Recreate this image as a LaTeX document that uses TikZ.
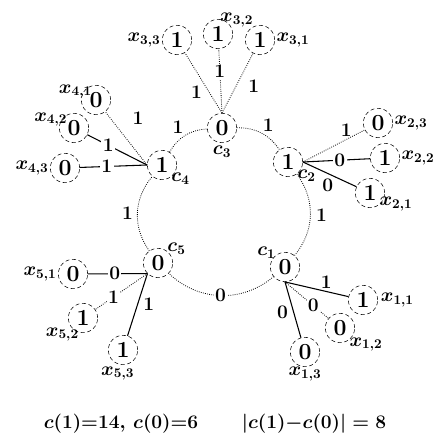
\documentclass[tikz,border=0pt]{standalone}
\usetikzlibrary{positioning}
\begin{document}
\begin{tikzpicture}[x=0.75pt,y=-0.75pt,
  bit/.style={circle,draw,densely dashed,minimum size=22pt,inner sep=0pt,font=\LARGE\bfseries},
  tag/.style={font=\Large\boldmath,inner sep=1pt},
  val/.style={font=\Large\bfseries,inner sep=1pt},
  onl/.style={val,fill=white},
  dots/.style={densely dotted,semithick},
  full/.style={thick}]
\useasboundingbox (0,0) rectangle (435,441);
% check nodes on the cycle
\node[bit] (c3) at (222,128) {0};
\node[bit] (c2) at (288,162) {1};
\node[bit] (c1) at (285,267) {0};
\node[bit] (c5) at (158,263) {0};
\node[bit] (c4) at (162,165) {1};
\node[tag,below=1pt of c3] {$c_3$};
\node[tag,below right=-3pt and -2pt of c2] {$c_2$};
\node[tag,above left=-3pt and -2pt of c1] {$c_1$};
\node[tag,above right=-3pt and -2pt of c5] {$c_5$};
\node[tag,below right=-3pt and -2pt of c4] {$c_4$};
\draw[dots] (c3) to[bend left=28] node[val,above right] {1} (c2);
\draw[dots] (c2) to[bend left=38] node[val,right=3pt] {1} (c1);
\draw[dots] (c1) to[bend left=42] node[onl] {0} (c5);
\draw[dots] (c5) to[bend left=38] node[val,left=2pt] {1} (c4);
\draw[dots] (c4) to[bend left=28] node[val,above left] {1} (c3);
% leaves of c3
\node[bit] (x33) at (177,40) {1};
\node[bit] (x32) at (218,34) {1};
\node[bit] (x31) at (260,40) {1};
\node[tag,left=0pt of x33] {$x_{3,3}$};
\node[tag,above=-7pt of x32,xshift=14pt] {$x_{3,2}$};
\node[tag,right=0pt of x31] {$x_{3,1}$};
\draw[dots] (c3.north) -- node[val,pos=.35,left=4pt] {1} (x33);
\draw[dots] (c3.north) -- node[onl,pos=.65] {1} (x32);
\draw[dots] (c3.north) -- node[val,pos=.45,right=8pt] {1} (x31);
% leaves of c4
\node[bit] (x41) at (96,100) {0};
\node[bit] (x42) at (74,128) {0};
\node[bit] (x43) at (65,168) {0};
\node[tag,above left=-8pt and -6pt of x41] {$x_{4,1}$};
\node[tag,above left=-8pt and -4pt of x42] {$x_{4,2}$};
\node[tag,left=0pt of x43] {$x_{4,3}$};
\draw[dots] (c4.west) -- node[val,pos=.45,above right=11pt and 2pt] {1} (x41);
\draw[full] (c4.west) -- node[onl,pos=.65] {1} (x42);
\draw[full] (c4.west) -- node[onl,pos=.6] {1} (x43);
% leaves of c2
\node[bit] (x23) at (378,123) {0};
\node[bit] (x22) at (385,158) {1};
\node[bit] (x21) at (370,193) {1};
\node[tag,right=0pt of x23] {$x_{2,3}$};
\node[tag,right=0pt of x22] {$x_{2,2}$};
\node[tag,below right=-6pt and -2pt of x21] {$x_{2,1}$};
\draw[dots] (c2.east) -- node[val,pos=.7,above=1pt] {1} (x23);
\draw[full] (c2.east) -- node[onl,pos=.55] {0} (x22);
\draw[full] (c2.east) -- node[val,pos=.6,below left=0pt] {0} (x21);
% leaves of c5
\node[bit] (x51) at (73,274) {0};
\node[bit] (x52) at (83,318) {1};
\node[bit] (x53) at (123,350) {1};
\node[tag,left=0pt of x51] {$x_{5,1}$};
\node[tag,below left=-2pt and -6pt of x52] {$x_{5,2}$};
\node[tag,below=0pt of x53,xshift=-4pt] {$x_{5,3}$};
\draw[full] (c5.south west) -- node[onl,pos=.55] {0} (x51);
\draw[dots] (c5.south west) -- node[onl,pos=.65] {1} (x52);
\draw[full] (c5.south west) -- node[val,pos=.5,right=3pt] {1} (x53);
% leaves of c1
\node[bit] (x11) at (363,300) {1};
\node[bit] (x12) at (340,328) {0};
\node[bit] (x13) at (305,352) {0};
\node[tag,right=1pt of x11] {$x_{1,1}$};
\node[tag,below right=-2pt and -2pt of x12] {$x_{1,2}$};
\node[tag,below=-1pt of x13] {$x_{1,3}$};
\draw[full] (c1.south) -- node[val,pos=.65,above=1pt] {1} (x11);
\draw[dots] (c1.south) -- node[onl,pos=.65] {0} (x12);
\draw[full] (c1.south) -- node[val,pos=.55,left=3pt] {0} (x13);
% counts
\node[font=\Large\boldmath] (cnt) at (121,424) {$c(1){=}14,\,c(0){=}6$};
\node[font=\Large\boldmath] (dif) at (314,424) {$|c(1){-}c(0)|=8$};
\end{tikzpicture}
\end{document}
